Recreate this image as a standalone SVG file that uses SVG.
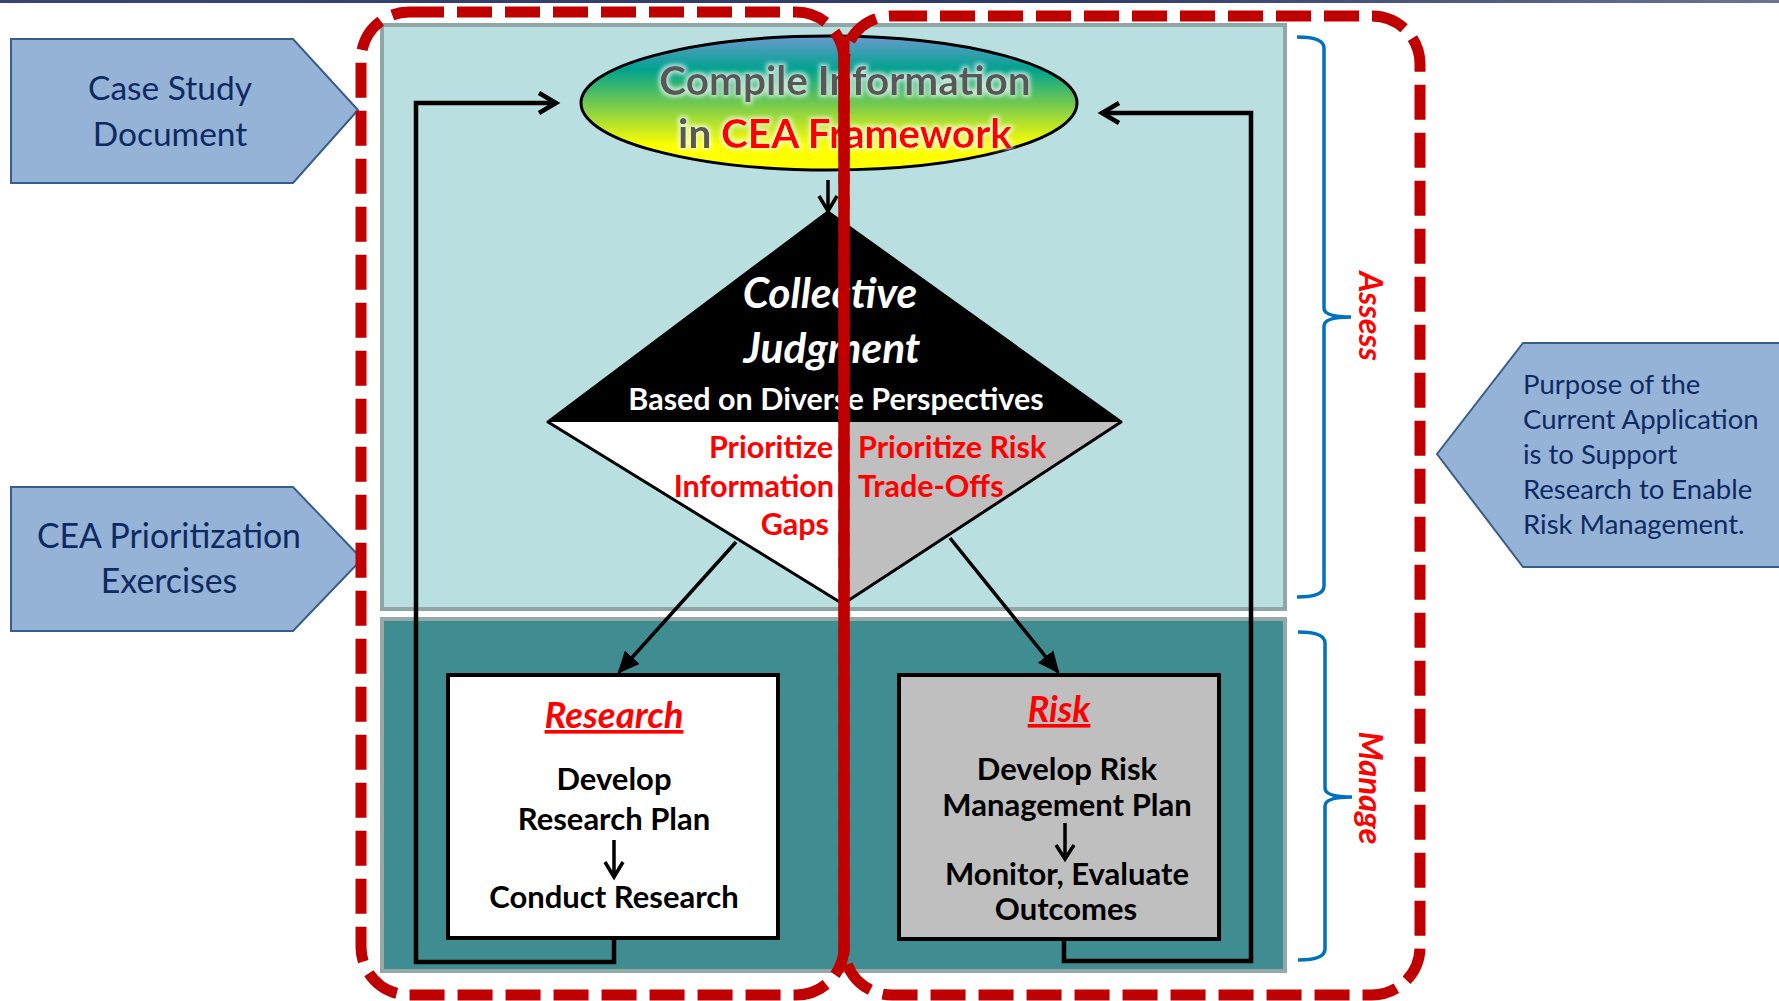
<svg xmlns="http://www.w3.org/2000/svg" width="1779" height="1001" viewBox="0 0 1779 1001">
<defs>
<linearGradient id="topbar" x1="0" y1="0" x2="1" y2="0">
<stop offset="0" stop-color="#3a4470"/><stop offset="0.6" stop-color="#2f3a66"/><stop offset="1" stop-color="#6b7396"/>
</linearGradient>
<linearGradient id="ellg" x1="0" y1="0" x2="0" y2="1">
<stop offset="0" stop-color="#6a9bcf"/><stop offset="0.25" stop-color="#00a28e"/><stop offset="0.55" stop-color="#86d046"/><stop offset="0.82" stop-color="#ffff00"/><stop offset="1" stop-color="#ffff00"/>
</linearGradient>
<filter id="glow" x="-10%" y="-30%" width="120%" height="160%">
<feMorphology in="SourceAlpha" operator="dilate" radius="1.5" result="d"/>
<feGaussianBlur in="d" stdDeviation="2" result="b"/>
<feFlood flood-color="#ffffff" flood-opacity="0.7"/>
<feComposite in2="b" operator="in" result="g"/>
<feMerge><feMergeNode in="g"/><feMergeNode in="SourceGraphic"/></feMerge>
</filter>
<marker id="fill" viewBox="0 0 20 20" refX="18" refY="10" markerWidth="22" markerHeight="22" markerUnits="userSpaceOnUse" orient="auto">
<path d="M0,1 L20,10 L0,19 Z" fill="#000"/>
</marker>
</defs>
<style>
.pent{fill:#95b3d7;stroke:#385d8a;stroke-width:2}
.ptxt{font-family:Lato,"Noto Sans",sans-serif;fill:#0e2a62}
.bold{font-family:Lato,"Noto Sans",sans-serif;font-weight:bold}
.line{fill:none;stroke:#000;stroke-width:4.5;stroke-linejoin:miter}
.thin{fill:none;stroke:#000;stroke-width:3.5}
.brace{fill:none;stroke:#0070c0;stroke-width:3.5}
.dash{fill:none;stroke:#c00000;stroke-width:11;stroke-dasharray:35 13}
.red{fill:#ff0000}
</style>

<rect x="0" y="0" width="1779" height="3" fill="url(#topbar)"/>

<g id="assess-zone">
<rect x="382" y="25" width="903" height="584" fill="#b9dfe1" stroke="#8fa6a6" stroke-width="4"/>
</g>
<g id="manage-zone">
<rect x="382" y="619" width="903" height="352" fill="#3f8c91" stroke="#95a9a9" stroke-width="4"/>
</g>

<g id="case-study">
<polygon class="pent" points="11,39 293,39 358,110 293,183 11,183"/>
<text class="ptxt" font-size="33.5" text-anchor="middle"><tspan x="170" y="100">Case Study</tspan><tspan x="170" y="146">Document</tspan></text>
</g>

<g id="cea-prioritization">
<polygon class="pent" points="11,487 293,487 362,559 293,631 11,631"/>
<text class="ptxt" font-size="33.8" text-anchor="middle"><tspan x="169" y="548">CEA Prioritization</tspan><tspan x="169" y="593">Exercises</tspan></text>
</g>

<g id="purpose">
<polygon class="pent" points="1437,454 1523,343 1790,343 1790,567 1523,567"/>
<text class="ptxt" font-size="27.5"><tspan x="1523" y="394">Purpose of the</tspan><tspan x="1523" y="429">Current Application</tspan><tspan x="1523" y="464">is to Support</tspan><tspan x="1523" y="499">Research to Enable</tspan><tspan x="1523" y="534">Risk Management.</tspan></text>
</g>

<g id="compile">
<ellipse cx="829" cy="103" rx="248" ry="67" fill="url(#ellg)" stroke="#000" stroke-width="3"/>
<g filter="url(#glow)">
<text class="bold" font-size="40.5" text-anchor="middle" fill="#595959"><tspan x="845" y="95">Compile Information</tspan><tspan x="845" y="148">in <tspan fill="#ff0000">CEA Framework</tspan></tspan></text>
</g>
</g>

<g id="judgment">
<polygon points="828,212 1121,422 548,422" fill="#000"/>
<polygon points="548,422 843,422 843,604" fill="#fff"/>
<polygon points="843,422 1121,422 843,604" fill="#bfbfbf"/>
<polygon points="828,212 1121,422 843,604 548,422" fill="none" stroke="#000" stroke-width="3" stroke-linejoin="round"/>
<text class="bold" font-size="42.5" font-style="italic" fill="#fff" text-anchor="middle"><tspan x="830" y="308">Collective</tspan><tspan x="832" y="363">Judgment</tspan></text>
<text class="bold" font-size="30.5" fill="#fff" text-anchor="middle" x="836" y="410">Based on Diverse Perspectives</text>
<text class="bold red" font-size="30.5" text-anchor="end"><tspan x="833" y="458">Prioritize</tspan><tspan x="834" y="497">Information</tspan><tspan x="829" y="535">Gaps</tspan></text>
<text class="bold red" font-size="30.5"><tspan x="858" y="458">Prioritize Risk</tspan><tspan x="858" y="497">Trade-Offs</tspan></text>
</g>

<g id="research">
<rect x="448" y="675" width="330" height="263" fill="#fff" stroke="#000" stroke-width="4"/>
<text class="bold red" font-size="36.5" font-style="italic" text-decoration="underline" text-anchor="middle" x="614" y="728">Research</text>
<text class="bold" font-size="31" fill="#000" text-anchor="middle"><tspan x="614" y="790">Develop</tspan><tspan x="614" y="830">Research Plan</tspan><tspan x="614" y="908">Conduct Research</tspan></text>
<path class="thin" d="M614,840 L614,877 M605,862 L614,877 L623,862"/>
</g>

<g id="risk">
<rect x="899" y="675" width="320" height="264" fill="#bfbfbf" stroke="#000" stroke-width="4"/>
<text class="bold red" font-size="36" font-style="italic" text-decoration="underline" text-anchor="middle" x="1059" y="722">Risk</text>
<text class="bold" font-size="31" fill="#000" text-anchor="middle"><tspan x="1067" y="780">Develop Risk</tspan><tspan x="1067" y="816">Management Plan</tspan><tspan x="1067" y="885">Monitor, Evaluate</tspan><tspan x="1066" y="920">Outcomes</tspan></text>
<path class="thin" d="M1065,823 L1065,859 M1056,845 L1065,859 L1074,845"/>
</g>

<g id="assess-label">
<path class="brace" d="M1297,37 Q1324,37 1324,48 L1324,308 Q1324,317 1351,317 Q1324,317 1324,326 L1324,586 Q1324,597 1297,597"/>
<text class="bold red" font-size="32.5" font-style="italic" text-anchor="middle" transform="translate(1359,316) rotate(90)">Assess</text>
</g>
<g id="manage-label">
<path class="brace" d="M1298,632 Q1325,632 1325,643 L1325,788 Q1325,797 1352,797 Q1325,797 1325,806 L1325,949 Q1325,960 1298,960"/>
<text class="bold red" font-size="33" font-style="italic" text-anchor="middle" transform="translate(1359,788) rotate(90)">Manage</text>
</g>

<g id="connectors">
<path class="thin" d="M828,180 L828,211 M819,196 L828,211 L837,196"/>
<line x1="736" y1="542" x2="619" y2="672" stroke="#000" stroke-width="3.5" marker-end="url(#fill)"/>
<line x1="950" y1="538" x2="1058" y2="672" stroke="#000" stroke-width="3.5" marker-end="url(#fill)"/>
<path class="line" d="M614,938 L614,962 L416,962 L416,103 L555,103"/>
<path class="line" d="M539,93 L556,103 L539,113"/>
<path class="line" d="M1064,939 L1064,961 L1251,961 L1251,113 L1102,113"/>
<path class="line" d="M1119,103 L1102,113 L1119,123"/>
</g>

<g id="groupings">
<rect class="dash" x="361" y="12" width="483" height="983" rx="48" ry="48"/>
<rect class="dash" x="844" y="16" width="576" height="979" rx="48" ry="48"/>
<line x1="844" y1="36" x2="844" y2="955" stroke="#c00000" stroke-width="11"/>
</g>
</svg>
